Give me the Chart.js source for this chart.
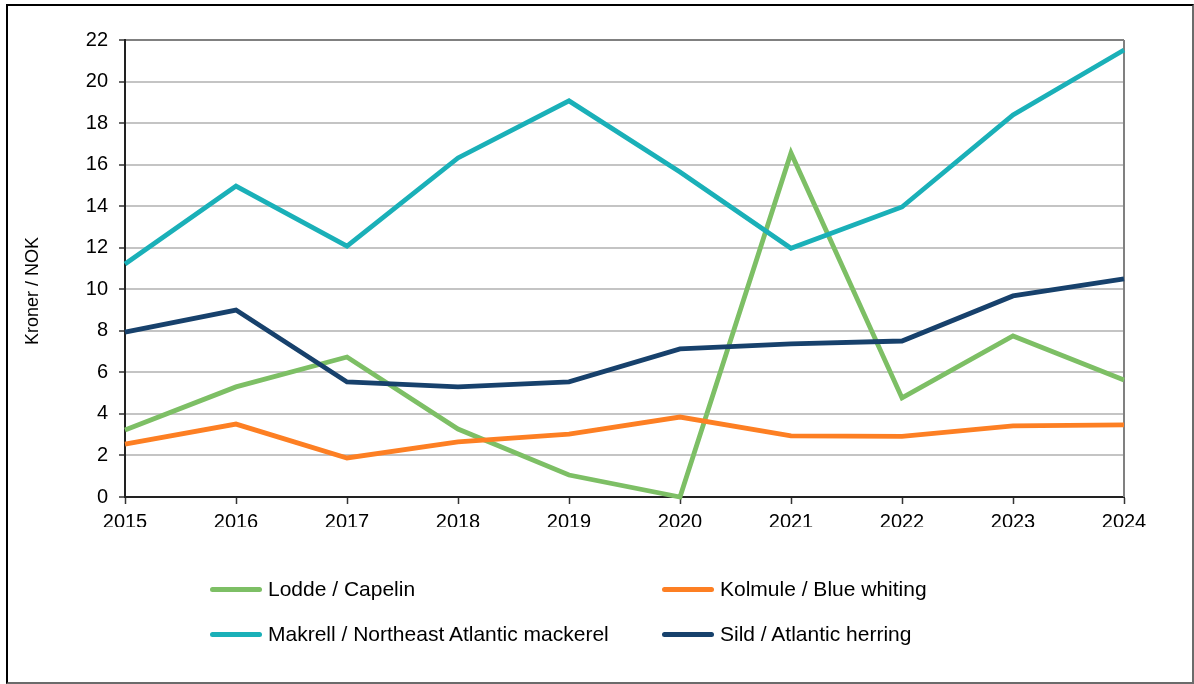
<!DOCTYPE html>
<html>
<head>
<meta charset="utf-8">
<script src="https://cdn.jsdelivr.net/npm/chart.js@4/dist/chart.umd.min.js"></script>
<style>
  body { margin: 0; background: #fff; font-family: "Liberation Sans", Arial, sans-serif; }
  #frame {
    position: absolute; left: 6px; top: 4px; width: 1188px; height: 680px;
    box-sizing: border-box;
    border-left: 2px solid #000; border-top: 2px solid #000;
    border-right: 2px solid #6b6b6b; border-bottom: 2px solid #6b6b6b;
  }
  #wrap { position: absolute; left: 0; top: 0; width: 1194px; height: 684px; }
  .leg { position: absolute; display: flex; align-items: center; height: 24px; font-size: 21px; color: #000; white-space: nowrap; }
  .leg span.sw { display: inline-block; width: 52px; height: 5px; border-radius: 3px; margin-right: 6px; }
</style>
</head>
<body>
<div id="frame"></div>
<div id="wrap"><canvas id="priceChart"></canvas></div>
<div id="legend"></div>
<script>
const years = ["2015", "2016", "2017", "2018", "2019", "2020", "2021", "2022", "2023", "2024"];

const capelin = [3.23, 5.3, 6.74, 3.27, 1.06, 0, 16.56, 4.77, 7.75, 5.63];
const blueWhiting = [2.55, 3.51, 1.88, 2.65, 3.03, 3.85, 2.94, 2.92, 3.42, 3.47];
const mackerel = [11.22, 14.97, 12.08, 16.32, 19.07, 15.65, 11.97, 13.96, 18.39, 21.52];
const herring = [7.94, 9.0, 5.54, 5.3, 5.54, 7.13, 7.37, 7.51, 9.68, 10.5];

const seriesNames = [
    "Lodde / Capelin",
    "Kolmule / Blue whiting",
    "Makrell / Northeast Atlantic mackerel",
    "Sild / Atlantic herring"
];
const seriesColors = ["#7dbf65", "#fd7f23", "#1ab0b8", "#17416c"];
const seriesValues = [capelin, blueWhiting, mackerel, herring];

const yTitle = "Kroner / NOK";

// right edge of plot + y axis title, drawn by hand
const framePlugin = {
    id: "framePlugin",
    beforeDatasetsDraw(chart) {
        const { ctx, chartArea } = chart;
        ctx.save();
        ctx.strokeStyle = "#808080";
        ctx.lineWidth = 2;
        ctx.beginPath();
        ctx.moveTo(chartArea.right, chartArea.top);
        ctx.lineTo(chartArea.right, chartArea.bottom);
        ctx.stroke();
        ctx.restore();
    },
    afterDraw(chart) {
        const ctx = chart.ctx;
        ctx.save();
        ctx.translate(33, 291);
        ctx.rotate(-Math.PI / 2);
        ctx.font = '18px "Liberation Sans", Arial, sans-serif';
        ctx.fillStyle = "#000";
        ctx.textAlign = "center";
        ctx.textBaseline = "middle";
        ctx.fillText(yTitle, 0, 0);
        ctx.restore();
    }
};

const datasets = seriesNames.map((name, i) => ({
    label: name,
    data: seriesValues[i],
    borderColor: seriesColors[i],
    backgroundColor: seriesColors[i],
    borderWidth: 4.8,
    pointRadius: 0,
    tension: 0,
    clip: false,
    order: seriesNames.length - i
}));

const ctx = document.getElementById("priceChart").getContext("2d");
const chart = new Chart(ctx, {
    type: "line",
    data: { labels: years, datasets: datasets },
    options: {
        responsive: true,
        maintainAspectRatio: false,
        animation: false,
        layout: { padding: { left: 0, top: 40, right: 70, bottom: 157 } },
        plugins: {
            legend: { display: false },
            tooltip: { enabled: false }
        },
        scales: {
            x: {
                offset: false,
                afterFit(scale) { scale.height = 30; },
                grid: { drawOnChartArea: false, tickColor: "#333", tickLength: 7, tickWidth: 1.5 },
                border: { color: "#222", width: 2 },
                ticks: {
                    color: "#000", padding: 6, maxRotation: 0,
                    font: { family: '"Liberation Sans", Arial, sans-serif', size: 20 }
                }
            },
            y: {
                min: 0,
                max: 22,
                afterFit(scale) { scale.width = 125; },
                grid: {
                    color: c => (c.tick && c.tick.value === 22) ? "#808080" : "#c4c4c4",
                    lineWidth: 2,
                    tickColor: "#333",
                    tickLength: 6,
                    tickWidth: 1.5
                },
                border: { color: "#222", width: 2 },
                ticks: {
                    stepSize: 2, color: "#000", padding: 11,
                    font: { family: '"Liberation Sans", Arial, sans-serif', size: 20 }
                }
            }
        }
    },
    plugins: [framePlugin]
});

// legend in two columns below the plot
const legendBox = document.getElementById("legend");
const legPos = [[210, 589], [662, 589], [210, 634], [662, 634]];
chart.data.datasets.forEach((ds, i) => {
    const item = document.createElement("div");
    item.className = "leg";
    item.style.left = legPos[i][0] + "px";
    item.style.top = (legPos[i][1] - 12) + "px";
    item.innerHTML = `<span class="sw" style="background:${ds.borderColor}"></span>${ds.label}`;
    legendBox.appendChild(item);
});
</script>
</body>
</html>
